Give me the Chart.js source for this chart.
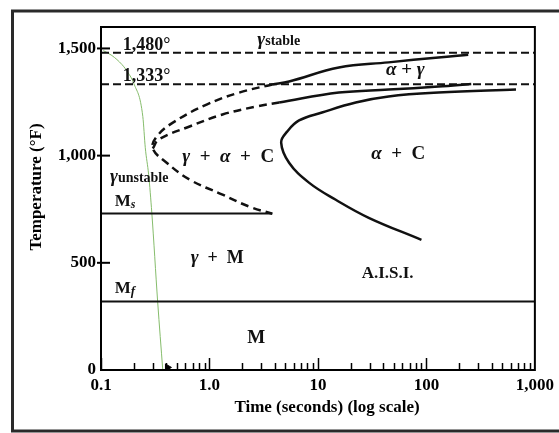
<!DOCTYPE html>
<html>
<head>
<meta charset="utf-8">
<title>Isothermal transformation diagram</title>
<script src="https://cdn.jsdelivr.net/npm/chart.js@4.4.1/dist/chart.umd.min.js"></script>
<style>
  html, body { margin: 0; padding: 0; background: #fff; }
  canvas { display: block; }
</style>
</head>
<body>
<canvas id="ttt" width="559" height="433"></canvas>
<script>
const timeTicks = [0.1, 1, 10, 100, 1000];
const timeTickLabels = ['0.1', '1.0', '10', '100', '1,000'];
const tempTicks = [0, 500, 1000, 1500];
const tempTickLabels = ['0', '500', '1,000', '1,500'];

const upperCritical = 1480;
const lowerCritical = 1333;
const msTemp = 730;
const msEndTime = 3.8;
const mfTemp = 320;

// cooling curve (green)
const coolTime = [0.105, 0.126, 0.156, 0.177, 0.201, 0.243, 0.256, 0.275, 0.294, 0.333, 0.371];
const coolTemp = [1490, 1467, 1425, 1388, 1336, 1182, 1037, 911, 734, 318, 0];

// start of transformation, from A1 round the nose down to Ms
const startTime = [3.79, 1.88, 0.94, 0.46, 0.327, 0.30, 0.403, 0.656, 1.32, 2.33, 3.79];
const startTemp = [1332, 1294, 1238, 1154, 1089, 1033, 967, 888, 818, 762, 729];

// inner dashed branch above the nose
const innerTime = [0.30, 0.34, 0.656, 1.32, 2.70, 4.39];
const innerTemp = [1033, 1075, 1136, 1192, 1229, 1248];

// alpha + gamma boundaries
const upperTime = [3.79, 5.42, 15.6, 44.8, 129, 243];
const upperTemp = [1332, 1346, 1411, 1435, 1458, 1470];
const lowerTime = [4.39, 15.6, 44.8, 129, 259];
const lowerTemp = [1248, 1294, 1308, 1322, 1334];

// end of transformation (alpha + C)
const finishTime = [670, 129, 44.8, 22.3, 10.9, 6.7, 5.2, 4.58, 5.42, 8.26, 14.6, 29.4, 90];
const finishTemp = [1308, 1294, 1276, 1248, 1201, 1164, 1112, 1061, 967, 874, 794, 710, 607];

const markerTime = [0.41];
const markerTemp = [12];

const SERIF = '"Liberation Serif", "DejaVu Serif", serif';
const GREEK = 'bold italic 19px';
const PLAIN = 'bold 19px';

// text placed in data space: left or centre anchor, y is baseline
const regionLabels = [
  { t: 0.159, temp: 1495, align: 'left', parts: [['1,480°', 'bold 18px']] },
  { t: 0.159, temp: 1350, align: 'left', parts: [['1,333°', 'bold 18px']] },
  { t: 2.76, temp: 1514, align: 'left', parts: [['γ', GREEK], ['stable', 'bold 14px']] },
  { t: 64, temp: 1374, align: 'center', parts: [['α', GREEK], [' + ', PLAIN], ['γ', GREEK]] },
  { t: 1.49, temp: 972, align: 'center', parts: [['γ', GREEK], ['  +  ', PLAIN], ['α', GREEK], ['  +  C', PLAIN]] },
  { t: 55, temp: 986, align: 'center', parts: [['α', GREEK], ['  +  C', PLAIN]] },
  { t: 0.121, temp: 879, align: 'left', parts: [['γ', GREEK], ['unstable', 'bold 14px']] },
  { t: 0.134, temp: 766, align: 'left', parts: [['M', 'bold 17px'], ['s', 'bold italic 12px', 2]] },
  { t: 1.18, temp: 500, align: 'center', parts: [['γ', GREEK], ['  +  M', 'bold 18px']] },
  { t: 0.134, temp: 360, align: 'left', parts: [['M', 'bold 17px'], ['f', 'bold italic 13px', 2]] },
  { t: 43.9, temp: 430, align: 'center', parts: [['A.I.S.I.', 'bold 17px']] },
  { t: 2.70, temp: 126, align: 'center', parts: [['M', 'bold 19px']] }
];

const pts = (xs, ys) => xs.map((x, i) => ({ x: x, y: ys[i] }));
const hline = (y, x0, x1) => [{ x: x0, y: y }, { x: x1, y: y }];

function curve(data, opts) {
  return Object.assign({
    data: data,
    showLine: true,
    pointRadius: 0,
    borderColor: '#111',
    borderWidth: 2.5,
    tension: 0.4,
    fill: false
  }, opts);
}

const framePlugin = {
  id: 'frame',
  beforeDraw(chart) {
    const ctx = chart.ctx;
    ctx.save();
    ctx.fillStyle = '#fff';
    ctx.fillRect(0, 0, chart.width, chart.height);
    ctx.strokeStyle = '#2a2a2a';
    ctx.lineWidth = 3;
    ctx.strokeRect(12.5, 11, 560, 420);
    ctx.restore();
  },
  afterDraw(chart) {
    const ctx = chart.ctx;
    const a = chart.chartArea;
    const xs = chart.scales.x;
    const ys = chart.scales.y;
    ctx.save();
    ctx.strokeStyle = '#000';
    ctx.lineWidth = 2;
    ctx.strokeRect(a.left, a.top, a.right - a.left, a.bottom - a.top);

    // minor and decade ticks along the time axis, pointing inward
    ctx.lineWidth = 1.5;
    for (let d = 0.1; d < 1000; d *= 10) {
      for (let m = 1; m < 10; m++) {
        const px = Math.round(xs.getPixelForValue(d * m)) + 0.5;
        const len = m === 1 ? 12 : 7;
        ctx.beginPath();
        ctx.moveTo(px, a.bottom);
        ctx.lineTo(px, a.bottom - len);
        ctx.stroke();
      }
    }
    // temperature ticks crossing the axis
    ctx.lineWidth = 2;
    tempTicks.forEach(v => {
      if (v === 0) return;
      const py = ys.getPixelForValue(v);
      ctx.beginPath();
      ctx.moveTo(a.left - 4, py);
      ctx.lineTo(a.left + 9, py);
      ctx.stroke();
    });

    // region labels
    ctx.fillStyle = '#111';
    ctx.textBaseline = 'alphabetic';
    ctx.textAlign = 'left';
    regionLabels.forEach(lb => {
      let total = 0;
      lb.parts.forEach(p => {
        ctx.font = p[1] + ' ' + SERIF;
        total += ctx.measureText(p[0]).width;
      });
      let x = xs.getPixelForValue(lb.t);
      const y = ys.getPixelForValue(lb.temp);
      if (lb.align === 'center') x -= total / 2;
      lb.parts.forEach(p => {
        ctx.font = p[1] + ' ' + SERIF;
        ctx.fillText(p[0], x, y + (p[2] || 0));
        x += ctx.measureText(p[0]).width;
      });
    });

    // axis titles
    ctx.fillStyle = '#000';
    ctx.font = 'bold 17px ' + SERIF;
    ctx.textAlign = 'center';
    ctx.textBaseline = 'middle';
    ctx.fillText('Time (seconds) (log scale)', 327, 408);
    ctx.translate(37, 187);
    ctx.rotate(-Math.PI / 2);
    ctx.fillText('Temperature (°F)', 0, 0);
    ctx.restore();
  }
};

const tickFont = { family: SERIF, size: 17, weight: 'bold' };

new Chart(document.getElementById('ttt').getContext('2d'), {
  type: 'scatter',
  data: {
    datasets: [
      curve(hline(upperCritical, 0.1, 1000), { borderWidth: 2, borderDash: [8, 4], tension: 0 }),
      curve(hline(lowerCritical, 0.1, 1000), { borderWidth: 2, borderDash: [8, 4], tension: 0 }),
      curve(hline(msTemp, 0.1, msEndTime), { borderWidth: 2, tension: 0 }),
      curve(hline(mfTemp, 0.1, 1000), { borderWidth: 2, tension: 0 }),
      curve(pts(startTime, startTemp), { borderDash: [8, 5] }),
      curve(pts(innerTime, innerTemp), { borderDash: [8, 5] }),
      curve(pts(upperTime, upperTemp)),
      curve(pts(lowerTime, lowerTemp)),
      curve(pts(finishTime, finishTemp)),
      curve(pts(coolTime, coolTemp), { borderColor: '#86bd6c', borderWidth: 1, cubicInterpolationMode: 'monotone' }),
      {
        data: pts(markerTime, markerTemp),
        pointStyle: 'triangle',
        rotation: 90,
        pointRadius: 4,
        backgroundColor: '#000',
        borderColor: '#000'
      }
    ]
  },
  options: {
    responsive: false,
    animation: false,
    events: [],
    layout: { padding: { top: 27, right: 22, left: 0, bottom: 0 } },
    plugins: { legend: { display: false }, tooltip: { enabled: false } },
    scales: {
      x: {
        type: 'logarithmic',
        min: 0.1,
        max: 1000,
        afterFit: s => { s.height = 63; },
        afterBuildTicks: s => { s.ticks = timeTicks.map(v => ({ value: v })); },
        grid: { display: false, drawTicks: false },
        border: { display: false },
        ticks: {
          color: '#000',
          font: tickFont,
          padding: 5,
          maxRotation: 0,
          autoSkip: false,
          callback: (v, i) => timeTickLabels[i]
        }
      },
      y: {
        min: 0,
        max: 1600,
        afterFit: s => { s.width = 101; },
        afterBuildTicks: s => { s.ticks = tempTicks.map(v => ({ value: v })); },
        grid: { display: false, drawTicks: false },
        border: { display: false },
        ticks: {
          color: '#000',
          font: tickFont,
          padding: 5,
          callback: (v, i) => tempTickLabels[i]
        }
      }
    }
  },
  plugins: [framePlugin]
});
</script>
</body>
</html>
